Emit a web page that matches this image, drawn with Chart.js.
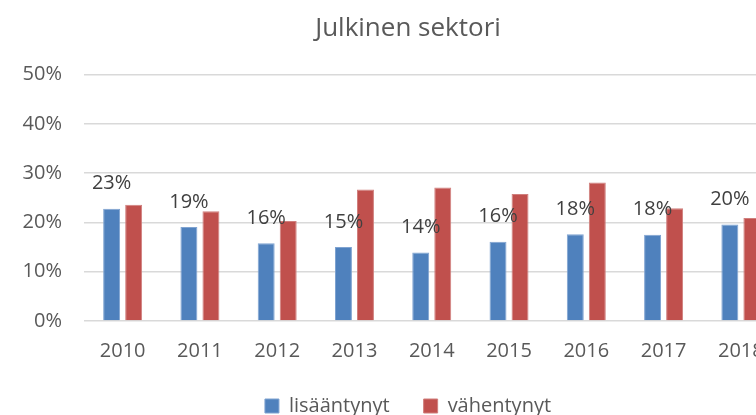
<!DOCTYPE html>
<html>
<head>
<meta charset="utf-8">
<script src="https://cdn.jsdelivr.net/npm/chart.js@4/dist/chart.umd.min.js"></script>
<style>
  html, body { margin: 0; padding: 0; background: #ffffff; overflow: hidden; width: 756px; height: 415px; }
  #wrap { position: absolute; left: 0; top: 0; width: 816px; height: 426px; }
</style>
</head>
<body>
<div id="wrap"><canvas id="c" width="816" height="426"></canvas></div>
<script>
const categories = ['2010', '2011', '2012', '2013', '2014', '2015', '2016', '2017', '2018'];
const lisaantynyt = [22.8, 19.1, 15.8, 15.0, 13.9, 16.1, 17.6, 17.5, 19.6];
const vahentynyt = [23.6, 22.3, 20.3, 26.7, 27.1, 25.8, 28.1, 22.9, 20.9];
const seriesNames = ['lisääntynyt', 'vähentynyt'];
const yTicks = [0, 10, 20, 30, 40, 50];
const chartTitle = 'Julkinen sektori';

const FONT = "'Open Sans', 'Liberation Sans', sans-serif";

const labelPlugin = {
  id: 'barLabels',
  afterDatasetsDraw(chart) {
    const ctx = chart.ctx;
    const meta = chart.getDatasetMeta(0);
    ctx.save();
    ctx.font = '20px ' + FONT;
    ctx.fillStyle = '#404040';
    ctx.textAlign = 'center';
    ctx.textBaseline = 'middle';
    meta.data.forEach((bar, i) => {
      const v = chart.data.datasets[0].data[i];
      ctx.fillText(Math.round(v) + '%', bar.x, bar.y - 25);
    });
    ctx.restore();
  }
};

new Chart(document.getElementById('c'), {
  type: 'bar',
  data: {
    labels: categories,
    datasets: [
      { label: seriesNames[0], data: lisaantynyt, backgroundColor: '#4F81BD',
        borderColor: '#7FA3D1', borderWidth: 1, categoryPercentage: 0.57, barPercentage: 0.77 },
      { label: seriesNames[1], data: vahentynyt, backgroundColor: '#C0504D',
        borderColor: '#D07F7D', borderWidth: 1, categoryPercentage: 0.57, barPercentage: 0.77 }
    ]
  },
  options: {
    responsive: false,
    animation: false,
    layout: { padding: 0 },
    plugins: {
      title: {
        display: true, text: chartTitle, color: '#595959',
        font: { family: FONT, size: 26, weight: 'normal' },
        padding: { top: 13, bottom: 30.5 }
      },
      legend: {
        position: 'bottom',
        labels: {
          color: '#595959', boxWidth: 14, boxHeight: 14, padding: 34,
          font: { family: FONT, size: 20 }
        }
      },
      tooltip: { enabled: false }
    },
    scales: {
      x: {
        grid: { display: false, drawTicks: false },
        border: { display: false },
        ticks: { color: '#595959', font: { family: FONT, size: 20 }, padding: 18, maxRotation: 0 },
        afterFit(axis) { axis.height = 41; }
      },
      y: {
        min: 0, max: 50,
        afterBuildTicks(axis) { axis.ticks = yTicks.map(v => ({ value: v })); },
        grid: { color: '#D9D9D9', lineWidth: 1.5, drawTicks: false },
        border: { display: false },
        ticks: {
          color: '#595959', font: { family: FONT, size: 20 }, padding: 22,
          callback: v => v + '%'
        },
        afterFit(axis) { axis.width = 84; }
      },
      yRight: {
        type: 'linear', position: 'right', min: 0, max: 50,
        grid: { display: false, drawOnChartArea: false, drawTicks: false },
        border: { display: false },
        ticks: { display: false },
        afterFit(axis) { axis.width = 36.5; }
      }
    }
  },
  plugins: [labelPlugin]
});
</script>
</body>
</html>
